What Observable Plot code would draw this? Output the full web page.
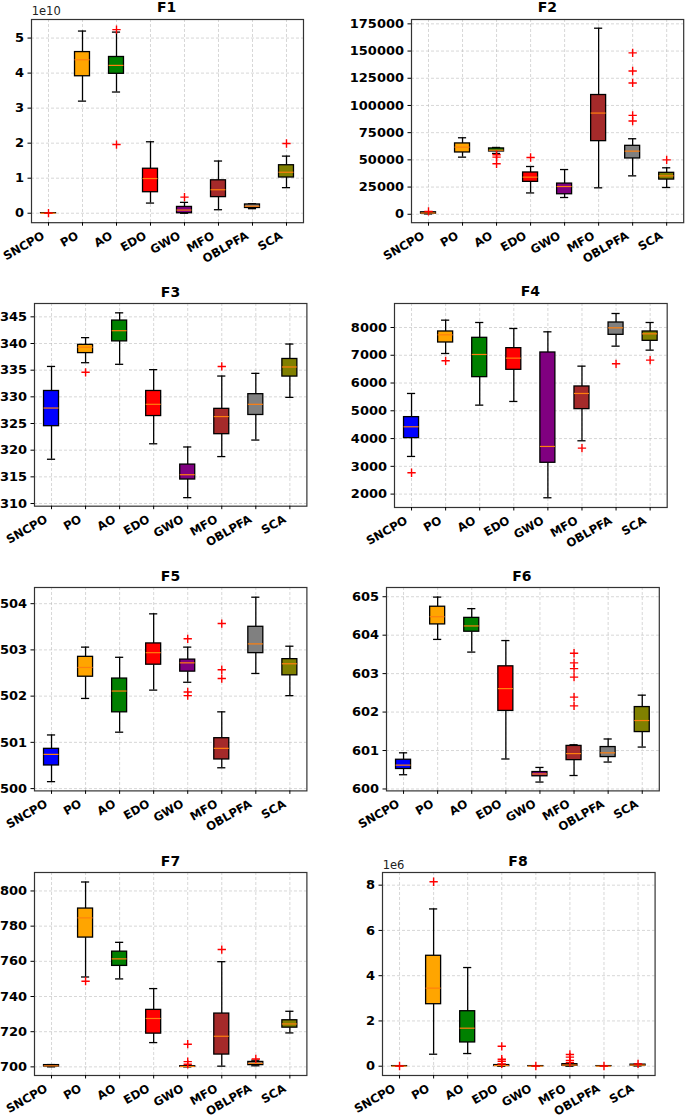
<!DOCTYPE html>
<html><head><meta charset="utf-8">
<script src="https://cdn.jsdelivr.net/npm/d3@7"></script>
<script src="https://cdn.jsdelivr.net/npm/@observablehq/plot@0.6"></script>
<style>
body{margin:0;background:#fff;}
#wrap{position:relative;width:685px;height:1119px;overflow:hidden;font-family:"DejaVu Sans",sans-serif;color:#000;}
.title{position:absolute;font-weight:bold;font-size:14px;transform:translate(-50%,-50%);white-space:nowrap;}
.offset{position:absolute;font-size:11.5px;transform:translateY(-50%);white-space:nowrap;color:#222;}
#wrap svg{position:absolute;}
</style></head><body><div id="wrap"></div>
<script>
const algorithms = ["SNCPO","PO","AO","EDO","GWO","MFO","OBLPFA","SCA"];
const boxColors = ["blue","orange","green","red","purple","brown","gray","olive"];

// F1 (x 1e10)
const F1_low  = [0.000, 3.20, 3.46, 0.29, 0.00, 0.10, 0.13, 0.73];
const F1_q1   = [0.000, 3.91, 3.98, 0.60, 0.00, 0.46, 0.15, 1.02];
const F1_med  = [0.001, 4.38, 4.22, 0.99, 0.09, 0.67, 0.20, 1.17];
const F1_q3   = [0.002, 4.60, 4.46, 1.27, 0.18, 0.94, 0.25, 1.37];
const F1_high = [0.003, 5.20, 5.17, 2.04, 0.31, 1.49, 0.27, 1.63];
const F1_out  = [["SNCPO",0.005],["AO",5.24],["AO",1.96],["GWO",0.46],["SCA",1.99]];

// F2
const F2_low  = [300, 52500, 55900, 19600, 15400, 24300, 35300, 24600];
const F2_q1   = [600, 56800, 57700, 29800, 18400, 67200, 51300, 31900];
const F2_med  = [1200, 61700, 58900, 34100, 25500, 93000, 58000, 35300];
const F2_q3   = [1800, 65100, 60500, 38400, 28200, 109600, 62900, 38100];
const F2_high = [2200, 70300, 61400, 43900, 41100, 171000, 69400, 42700];
const F2_out  = [["SNCPO",2600],["AO",54700],["AO",52500],["AO",46400],["EDO",52200],
  ["OBLPFA",148300],["OBLPFA",131700],["OBLPFA",120700],["OBLPFA",90900],["OBLPFA",85700],["SCA",50000]];

// F3
const F3_low  = [318.3, 336.4, 336.1, 321.2, 311.1, 318.8, 321.9, 329.9];
const F3_q1   = [324.5, 338.2, 340.4, 326.4, 314.5, 323.0, 326.6, 333.8];
const F3_med  = [327.9, 339.3, 342.4, 328.6, 315.4, 326.3, 328.6, 335.6];
const F3_q3   = [331.1, 339.75, 344.3, 331.1, 317.3, 327.75, 330.5, 337.1];
const F3_high = [335.7, 341.1, 345.75, 335.1, 320.6, 333.9, 334.4, 339.9];
const F3_out  = [["PO",334.6],["MFO",335.7]];

// F4
const F4_low  = [3356, 7064, 5204, 5336, 1868, 3920, 7328, 7184];
const F4_q1   = [4016, 7460, 6212, 6476, 3128, 5060, 7736, 7520];
const F4_med  = [4424, 7736, 7028, 6896, 3716, 5624, 7988, 7772];
const F4_q3   = [4772, 7856, 7628, 7256, 7100, 5876, 8180, 7856];
const F4_high = [5624, 8264, 8180, 7964, 7844, 6608, 8504, 8180];
const F4_out  = [["SNCPO",2768],["PO",6800],["MFO",3656],["OBLPFA",6692],["SCA",6824]];

// F5
const F5_low  = [500.15, 501.95, 501.22, 502.13, 502.30, 500.45, 502.49, 502.01];
const F5_q1   = [500.50, 502.42, 501.65, 502.68, 502.53, 500.63, 502.93, 502.45];
const F5_med  = [500.74, 502.62, 502.11, 502.94, 502.72, 500.87, 503.13, 502.70];
const F5_q3   = [500.86, 502.85, 502.38, 503.14, 502.79, 501.09, 503.50, 502.80];
const F5_high = [501.16, 503.06, 502.84, 503.78, 503.06, 501.66, 504.14, 503.08];
const F5_out  = [["GWO",503.24],["GWO",502.09],["GWO",502.01],["MFO",503.57],["MFO",502.57],["MFO",502.38]];

// F6
const F6_low  = [600.37, 603.89, 603.56, 600.78, 600.18, 600.35, 600.70, 601.09];
const F6_q1   = [600.52, 604.28, 604.09, 602.03, 600.33, 600.75, 600.83, 601.48];
const F6_med  = [600.62, 604.48, 604.24, 602.61, 600.39, 600.92, 600.94, 601.78];
const F6_q3   = [600.76, 604.74, 604.45, 603.19, 600.44, 601.12, 601.09, 602.13];
const F6_high = [600.94, 604.99, 604.69, 603.86, 600.56, 601.15, 601.30, 602.44];
const F6_out  = [["MFO",603.53],["MFO",603.28],["MFO",603.13],["MFO",602.91],["MFO",602.39],["MFO",602.16]];

// F7
const F7_low  = [700.0, 751.1, 750.0, 713.8, 700.0, 700.4, 700.6, 719.3];
const F7_q1   = [700.2, 773.5, 757.4, 718.9, 700.05, 707.0, 701.0, 722.3];
const F7_med  = [700.6, 784.7, 761.4, 727.5, 700.2, 717.4, 702.0, 724.4];
const F7_q3   = [701.0, 790.0, 765.5, 732.4, 700.35, 730.3, 702.8, 726.5];
const F7_high = [701.3, 805.1, 770.8, 744.5, 700.6, 759.8, 703.8, 731.6];
const F7_out  = [["PO",748.7],["GWO",712.9],["GWO",703.0],["GWO",701.5],["MFO",766.7],["OBLPFA",704.5]];

// F8 (x 1e6)
const F8_low  = [0.000, 0.53, 0.56, 0.00, 0.000, 0.00, 0.000, 0.01];
const F8_q1   = [0.000, 2.74, 1.05, 0.01, 0.000, 0.02, 0.000, 0.03];
const F8_med  = [0.002, 3.45, 1.68, 0.03, 0.002, 0.05, 0.002, 0.05];
const F8_q3   = [0.004, 4.88, 2.43, 0.05, 0.004, 0.09, 0.004, 0.07];
const F8_high = [0.006, 6.95, 4.36, 0.08, 0.006, 0.11, 0.006, 0.09];
const F8_out  = [["SNCPO",0.01],["PO",8.15],["EDO",0.88],["EDO",0.31],["EDO",0.22],["EDO",0.10],
  ["GWO",0.01],["MFO",0.52],["MFO",0.40],["MFO",0.25],["MFO",0.16],["OBLPFA",0.01],["SCA",0.10]];

const panels = [
  {title:"F1", offset:"1e10", L:30.7, R:302.7, T:18.5, B:221.7, domain:[-0.27,5.53], ticks:[0,1,2,3,4,5],
   stats:[F1_low,F1_q1,F1_med,F1_q3,F1_high], out:F1_out},
  {title:"F2", L:411.3, R:683.5, T:18.5, B:221.7, domain:[-7740,179000], ticks:[0,25000,50000,75000,100000,125000,150000,175000],
   stats:[F2_low,F2_q1,F2_med,F2_q3,F2_high], out:F2_out},
  {title:"F3", L:34.3, R:306.7, T:303.3, B:506, domain:[309.5,347.5], ticks:[310,315,320,325,330,335,340,345],
   stats:[F3_low,F3_q1,F3_med,F3_q3,F3_high], out:F3_out},
  {title:"F4", L:394, R:666.7, T:302.7, B:506.7, domain:[1518,8864], ticks:[2000,3000,4000,5000,6000,7000,8000],
   stats:[F4_low,F4_q1,F4_med,F4_q3,F4_high], out:F4_out},
  {title:"F5", L:34.3, R:306.7, T:587.3, B:790.7, domain:[499.95,504.35], ticks:[500,501,502,503,504],
   stats:[F5_low,F5_q1,F5_med,F5_q3,F5_high], out:F5_out},
  {title:"F6", L:385.5, R:658.3, T:587.3, B:790.7, domain:[599.95,605.24], ticks:[600,601,602,603,604,605],
   stats:[F6_low,F6_q1,F6_med,F6_q3,F6_high], out:F6_out},
  {title:"F7", L:34.3, R:306.7, T:872.3, B:1075.3, domain:[695.1,810.5], ticks:[700,720,740,760,780,800],
   stats:[F7_low,F7_q1,F7_med,F7_q3,F7_high], out:F7_out},
  {title:"F8", offset:"1e6", L:381.7, R:654.3, T:872.3, B:1075.3, domain:[-0.41,8.56], ticks:[0,2,4,6,8],
   stats:[F8_low,F8_q1,F8_med,F8_q3,F8_high], out:F8_out}
];

const wrap = document.getElementById("wrap");
const ml = 60, mr = 5, mt = 25, mb = 40;
const hw = 0.22, cw = 0.12;
const positions = d3.range(1, 9);
const gridStyle = {stroke: "#b8b8b8", strokeOpacity: 0.8, strokeDasharray: "3,2", strokeWidth: 0.7};

for (const p of panels) {
  const [lo, q1, med, q3, hi] = p.stats;
  const rows = algorithms.map((a, k) => ({i: k + 1, low: lo[k], q1: q1[k], med: med[k], q3: q3[k], high: hi[k], color: boxColors[k]}));
  const outs = p.out.map(([a, v]) => ({i: algorithms.indexOf(a) + 1, v}));
  const w = p.R - p.L + ml + mr, h = p.B - p.T + mt + mb;
  const svg = Plot.plot({
    width: w, height: h, marginLeft: ml, marginRight: mr, marginTop: mt, marginBottom: mb,
    style: {background: "transparent", overflow: "visible", fontFamily: "DejaVu Sans", fontSize: "13px", fontWeight: "bold", color: "#000", maxWidth: "none"},
    x: {type: "linear", domain: [0.5, 8.5]},
    y: {type: "linear", domain: p.domain},
    color: {type: "identity"},
    marks: [
      Plot.gridX(positions, gridStyle),
      Plot.gridY(p.ticks, gridStyle),
      Plot.ruleX(rows, {x: "i", y1: "low", y2: "q1", stroke: "black", strokeWidth: 1.3}),
      Plot.ruleX(rows, {x: "i", y1: "q3", y2: "high", stroke: "black", strokeWidth: 1.3}),
      Plot.ruleY(rows, {y: "low", x1: d => d.i - cw, x2: d => d.i + cw, stroke: "black", strokeWidth: 1.3}),
      Plot.ruleY(rows, {y: "high", x1: d => d.i - cw, x2: d => d.i + cw, stroke: "black", strokeWidth: 1.3}),
      Plot.rect(rows, {x1: d => d.i - hw, x2: d => d.i + hw, y1: "q1", y2: "q3", fill: "color", stroke: "black", strokeWidth: 1.3}),
      Plot.ruleY(rows, {y: "med", x1: d => d.i - hw, x2: d => d.i + hw, stroke: "#ff7f0e", strokeWidth: 1.2}),
      Plot.dot(outs, {x: "i", y: "v", symbol: "plus", stroke: "red", r: 2.8, strokeWidth: 1.4}),
      Plot.frame({stroke: "#333", strokeWidth: 1.2}),
      Plot.axisY(p.ticks, {tickSize: 3.5, tickPadding: 4, tickFormat: d => String(d), fontWeight: "bold", label: null}),
      Plot.axisX(positions, {tickSize: 3.5, tickFormat: () => "", label: null}),
      Plot.axisX(positions, {tickSize: 0, tickPadding: 12, tickRotate: -30, tickFormat: d => algorithms[d - 1], fontWeight: "bold", fontSize: 11.7, label: null, dx: -5})
    ]
  });
  svg.style.left = (p.L - ml) + "px";
  svg.style.top = (p.T - mt) + "px";
  wrap.appendChild(svg);

  const t = document.createElement("div");
  t.className = "title";
  t.textContent = p.title;
  t.style.left = ((p.L + p.R) / 2) + "px";
  t.style.top = (p.T - 11.5) + "px";
  wrap.appendChild(t);

  if (p.offset) {
    const o = document.createElement("div");
    o.className = "offset";
    o.textContent = p.offset;
    o.style.left = (p.L + 1) + "px";
    o.style.top = (p.T - 7.5) + "px";
    wrap.appendChild(o);
  }
}
</script></body></html>
